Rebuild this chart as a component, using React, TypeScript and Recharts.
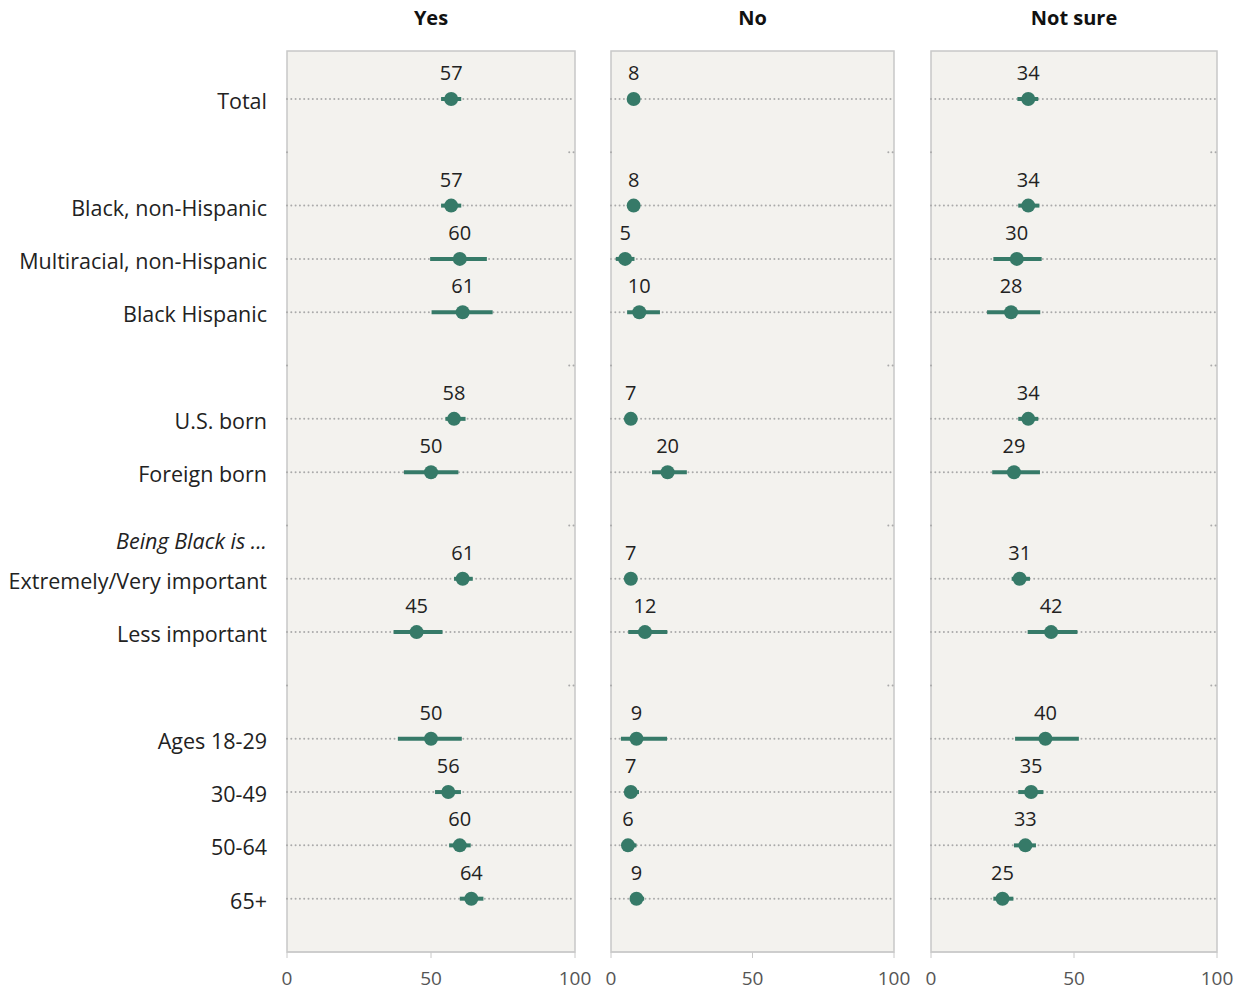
import React from 'react';
import {
  CartesianGrid,
  ErrorBar,
  ReferenceArea,
  ReferenceLine,
  Scatter,
  ScatterChart,
  XAxis,
  YAxis,
} from 'recharts';

// linhas do gráfico (índice = posição vertical)
const rowLabels = [
  'Total',
  '',
  'Black, non-Hispanic',
  'Multiracial, non-Hispanic',
  'Black Hispanic',
  '',
  'U.S. born',
  'Foreign born',
  'Being Black is ...',
  'Extremely/Very important',
  'Less important',
  '',
  'Ages 18-29',
  '30-49',
  '50-64',
  '65+',
];
const dataRows = [ 0, 2, 3, 4, 6, 7, 9, 10, 12, 13, 14, 15 ];
const blankRows = [ 1, 5, 8, 11 ];
const headerRow = 8;
const yTicks = [ 0, 2, 3, 4, 6, 7, 8, 9, 10, 12, 13, 14, 15 ];
const xTicks = [ 0, 50, 100 ];

const panelTitles = [ 'Yes', 'No', 'Not sure' ];

// valores e margens de erro [abaixo, acima]
const yesValues = [ 57, 57, 60, 61, 58, 50, 61, 45, 50, 56, 60, 64 ];
const yesErr = [
  [ 3.5, 3.5 ], [ 3.5, 3.5 ], [ 10.3, 9.4 ], [ 10.8, 10.4 ], [ 3, 4 ], [ 9.4, 9.5 ],
  [ 3, 3.5 ], [ 8, 9 ], [ 11.5, 10.7 ], [ 4.6, 4.4 ], [ 3.7, 3.8 ], [ 4, 4.2 ],
];
const noValues = [ 8, 8, 5, 10, 7, 20, 7, 12, 9, 7, 6, 9 ];
const noErr = [
  [ 1.5, 1.5 ], [ 1.5, 1.5 ], [ 3.3, 3.3 ], [ 4.3, 7.3 ], [ 1.5, 1.5 ], [ 5.5, 6.8 ],
  [ 1.5, 1.5 ], [ 5.9, 7.9 ], [ 5.5, 10.8 ], [ 2, 2.9 ], [ 2, 3 ], [ 2, 2.7 ],
];
const notSureValues = [ 34, 34, 30, 28, 34, 29, 31, 42, 40, 35, 33, 25 ];
const notSureErr = [
  [ 3.8, 3.5 ], [ 3.5, 3.9 ], [ 8.2, 8.7 ], [ 8.4, 10.2 ], [ 3.5, 3.5 ], [ 7.6, 9.1 ],
  [ 2.8, 3.6 ], [ 8.2, 9.2 ], [ 10.6, 11.7 ], [ 4.5, 4.3 ], [ 4, 3.7 ], [ 3.2, 3.8 ],
];

const GREEN = '#367a68';
const BG = '#f3f2ee';
const FONT = '"Open Sans", "Liberation Sans", sans-serif';
const CHART_H = 982;
const TOP = 43;
const Y_DOMAIN: [ number, number ] = [ -0.9, 16 ];

const buildData = (values: number[], errs: number[][]) =>
  dataRows.map((row, i) => ({ row, value: values[ i ], err: errs[ i ] }));

const panels = [
  { title: panelTitles[ 0 ], data: buildData(yesValues, yesErr), left: 0, width: 587, marginLeft: 0, marginRight: 20, showLabels: true },
  { title: panelTitles[ 1 ], data: buildData(noValues, noErr), left: 595, width: 311, marginLeft: 8, marginRight: 20, showLabels: false },
  { title: panelTitles[ 2 ], data: buildData(notSureValues, notSureErr), left: 915, width: 314, marginLeft: 8, marginRight: 20, showLabels: false },
];
const Y_AXIS_W = 279;

const RowTick = (props: any) => {
  const { x, y, payload } = props;
  const isHeader = payload.value === headerRow;
  return (
    <text
      x={x}
      y={y}
      dy={isHeader ? 24 : 10}
      textAnchor="end"
      fontSize={21.5}
      fontStyle={isHeader ? 'italic' : 'normal'}
      fill="#222"
      fontFamily={FONT}
    >
      {rowLabels[ payload.value ]}
    </text>
  );
};

const Dot = (props: any) => {
  const { cx, cy, payload } = props;
  if (cx == null || cy == null) return null;
  return (
    <g>
      <circle cx={cx} cy={cy} r={7} fill={GREEN} />
      <text x={cx} y={cy - 19} textAnchor="middle" fontSize={20} fill="#222" fontFamily={FONT}>
        {payload.value}
      </text>
    </g>
  );
};

const Panel = ({ title, data, left, width, marginLeft, marginRight, showLabels }: any) => {
  const plotLeft = marginLeft + (showLabels ? Y_AXIS_W : 0);
  const plotWidth = width - marginRight - plotLeft;
  return (
    <div style={{ position: 'absolute', left, top: 0, width, height: CHART_H }}>
      <div
        style={{
          position: 'absolute',
          left: plotLeft,
          width: plotWidth,
          top: 0,
          lineHeight: '20px',
          textAlign: 'center',
          fontFamily: FONT,
          fontWeight: 700,
          fontSize: 20,
          color: '#111',
        }}
      >
        {title}
      </div>
      <ScatterChart width={width} height={CHART_H} margin={{ top: TOP, right: marginRight, bottom: 0, left: marginLeft }}>
        <CartesianGrid fill={BG} horizontal={false} vertical={false} />
        <XAxis
          type="number"
          dataKey="value"
          domain={[ 0, 100 ]}
          ticks={xTicks}
          allowDataOverflow
          height={38}
          stroke="#c8c8c8"
          tickSize={6}
          tickMargin={14}
          tick={{ fill: '#555', fontSize: 19, fontFamily: FONT }}
        />
        <YAxis
          type="number"
          dataKey="row"
          domain={Y_DOMAIN}
          reversed
          allowDataOverflow
          ticks={yTicks}
          interval={0}
          hide={!showLabels}
          width={Y_AXIS_W}
          axisLine={false}
          tickLine={false}
          tickSize={0}
          tickMargin={20}
          tick={<RowTick />}
        />
        <ReferenceArea x1={0} x2={100} y1={Y_DOMAIN[ 0 ]} y2={Y_DOMAIN[ 1 ]} fill="none" stroke="#c8c8c8" strokeWidth={1.5} />
        {dataRows.map(r => (
          <ReferenceLine
            key={`g${r}`}
            y={r}
            stroke="#aaaaaa"
            strokeWidth={2}
            strokeDasharray="0 4.3"
            strokeLinecap="round"
          />
        ))}
        {blankRows.map(r => (
          <ReferenceLine
            key={`bl${r}`}
            segment={[ { x: 0, y: r }, { x: 0.6, y: r } ]}
            stroke="#aaaaaa"
            strokeWidth={2}
            strokeDasharray="0 4.3"
            strokeLinecap="round"
          />
        ))}
        {blankRows.map(r => (
          <ReferenceLine
            key={`br${r}`}
            segment={[ { x: 98, y: r }, { x: 100, y: r } ]}
            stroke="#aaaaaa"
            strokeWidth={2}
            strokeDasharray="0 4.3"
            strokeLinecap="round"
          />
        ))}
        <Scatter data={data} shape={<Dot />} isAnimationActive={false}>
          <ErrorBar dataKey="err" direction="x" width={0} stroke={GREEN} strokeWidth={4} isAnimationActive={false} />
        </Scatter>
      </ScatterChart>
    </div>
  );
};

export default function App() {
  return (
    <div style={{ position: 'relative', width: 1229, height: CHART_H }}>
      {panels.map(p => (
        <Panel key={p.title} {...p} />
      ))}
    </div>
  );
}
